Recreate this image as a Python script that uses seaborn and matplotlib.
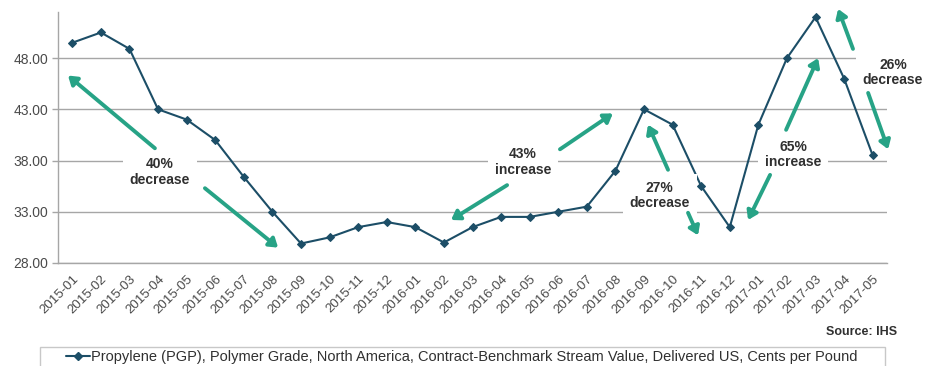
import numpy as np
import pandas as pd
import matplotlib
matplotlib.use("Agg")
import matplotlib.pyplot as plt
from matplotlib.patches import Rectangle
from matplotlib.lines import Line2D
import seaborn as sns

# Monthly propylene contract price, cents per pound
months = ["2015-01", "2015-02", "2015-03", "2015-04", "2015-05", "2015-06",
          "2015-07", "2015-08", "2015-09", "2015-10", "2015-11", "2015-12",
          "2016-01", "2016-02", "2016-03", "2016-04", "2016-05", "2016-06",
          "2016-07", "2016-08", "2016-09", "2016-10", "2016-11", "2016-12",
          "2017-01", "2017-02", "2017-03", "2017-04", "2017-05"]
prices = [49.5, 50.5, 48.9, 43.0, 42.0, 40.0, 36.4, 33.0, 29.9, 30.5, 31.5, 32.0,
          31.5, 30.0, 31.5, 32.5, 32.5, 33.0, 33.5, 37.0, 43.0, 41.5, 35.5, 31.5,
          41.5, 48.0, 52.0, 46.0, 38.5]
y_ticks = [28.0, 33.0, 38.0, 43.0, 48.0]

series_name = ("Propylene (PGP), Polymer Grade, North America, Contract-Benchmark "
               "Stream Value, Delivered US, Cents per Pound")

# Change callouts: label, label position, and two arrows (tail -> head)
callouts = [
    ("40%\ndecrease", (3.07, 36.9), [((2.89, 39.2), (-0.15, 46.3)), ((4.64, 35.3), (7.2, 29.5))]),
    ("43%\nincrease", (15.77, 37.85), [((17.06, 39.1), (18.91, 42.6)), ((15.21, 35.6), (13.25, 32.2))]),
    ("27%\ndecrease", (20.55, 34.6), [((20.84, 37.1), (20.14, 41.5)), ((21.54, 32.9), (21.89, 30.7))]),
    ("65%\nincrease", (25.21, 38.6), [((24.97, 41.0), (26.09, 48.0)), ((24.41, 36.6), (23.64, 32.2))]),
    ("26%\ndecrease", (28.71, 46.6), [((27.31, 48.9), (26.79, 52.8)), ((27.84, 44.6), (28.54, 39.1))]),
]

sns.set_theme(style="white")
plt.rcParams["font.family"] = ["Liberation Sans", "DejaVu Sans"]

LINE = "#1c4e67"
ARROW = "#27a386"
GRID = "#a6a6a6"
TXT = "#4a4a4a"

df = pd.DataFrame({"pos": np.arange(len(months)), "price": prices})

fig = plt.figure(figsize=(9.25, 3.66), dpi=100)
ax = fig.add_axes([58 / 925, 1 - 263 / 366, 829 / 925, 251 / 366])

sns.lineplot(data=df, x="pos", y="price", ax=ax, color=LINE, linewidth=1.5,
             marker="D", markersize=4.5, markeredgecolor=LINE, zorder=3)

ax.set_xlim(-0.5, len(months) - 0.5)
ax.set_ylim(28, 52.5)
ax.set_yticks(y_ticks)
ax.set_yticklabels([f"{v:.2f}" for v in y_ticks], fontsize=10, color=TXT)
ax.yaxis.grid(True, color=GRID, linewidth=1.0)
ax.set_axisbelow(True)

# category labels at points, tick marks between categories
ax.set_xticks(np.arange(len(months)))
ax.set_xticklabels(months, rotation=45, ha="right", rotation_mode="anchor",
                   fontsize=9.5, color=TXT)
ax.set_xticks(np.arange(len(months) + 1) - 0.5, minor=True)
ax.tick_params(axis="x", which="major", length=0, pad=7)
ax.tick_params(axis="x", which="minor", length=4, color=GRID, width=1)
ax.tick_params(axis="y", length=4, color=GRID, width=1, pad=3, left=True)
ax.set_xlabel("")
ax.set_ylabel("")

for side in ["top", "right"]:
    ax.spines[side].set_visible(False)
for side in ["left", "bottom"]:
    ax.spines[side].set_color(GRID)
    ax.spines[side].set_linewidth(1.0)

for label, (tx, ty), arrows in callouts:
    ax.text(tx, ty, label, ha="center", va="center", fontsize=10, fontweight="bold",
            color="#303030", zorder=5, clip_on=False, linespacing=1.15,
            bbox=dict(boxstyle="square,pad=0.5", facecolor="white", edgecolor="none"))
    for tail, head in arrows:
        ax.annotate("", xy=head, xytext=tail, annotation_clip=False, zorder=6,
                    arrowprops=dict(arrowstyle="-|>,head_length=0.45,head_width=0.3",
                                    color=ARROW, lw=2.8, mutation_scale=11,
                                    shrinkA=0, shrinkB=0))

fig.text(897 / 925, 1 - 332 / 366, "Source: IHS", ha="right", va="center",
         fontsize=9, fontweight="bold", color="#303030")

# legend box below the chart
fig.patches.append(Rectangle((40 / 925, -0.05), 845 / 925, 1 - 347 / 366 + 0.05,
                             transform=fig.transFigure, facecolor="white",
                             edgecolor="#c8c8c8", linewidth=1.0))
handle = Line2D([], [], color=LINE, linewidth=1.5, marker="D", markersize=4.5)
fig.legend([handle], [series_name], loc="center", frameon=False,
           bbox_to_anchor=(462 / 925, 1 - 357 / 366), fontsize=10.5,
           handlelength=1.6, handletextpad=0.1, borderpad=0, labelcolor="#303030")

fig.savefig("out.png", dpi=100)
